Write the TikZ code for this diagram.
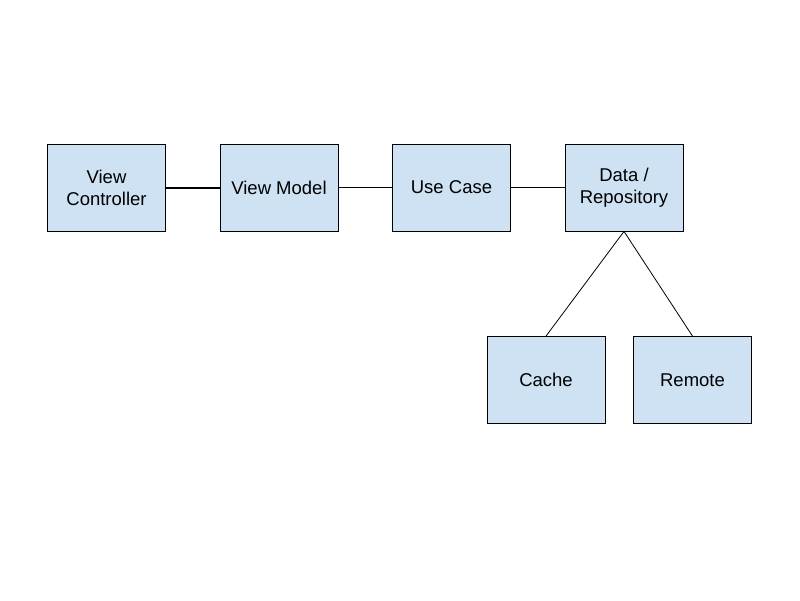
\documentclass[tikz,border=0pt]{standalone}
\usepackage{fontspec}
\setmainfont{Liberation Sans}
\begin{document}
\begin{tikzpicture}[x=1pt,y=-1pt,
  box/.style={draw=black, line width=0.8pt, fill={rgb,255:red,207;green,226;blue,243}, minimum width=118pt, minimum height=87pt, align=center, inner sep=2pt, font=\fontsize{18.5}{22}\selectfont},
  link/.style={draw=black, line width=0.8pt}]
\useasboundingbox (0,0) rectangle (800,600);
\node[box] (vc) at (106.5,187.5) {View\\Controller};
\node[box] (vm) at (279,187.5) {View Model};
\node[box] (uc) at (451.5,187.5) {Use Case};
\node[box] (data) at (624,187.5) {Data /\\Repository};
\node[box] (cache) at (546,380) {Cache};
\node[box] (remote) at (692.5,380) {Remote};
\draw[link, line width=2pt] (vc) -- (vm);
\draw[link] (vm) -- (uc);
\draw[link] (uc) -- (data);
\draw[link] (data.south) -- (cache.north);
\draw[link] (data.south) -- (remote.north);
\end{tikzpicture}
\end{document}
